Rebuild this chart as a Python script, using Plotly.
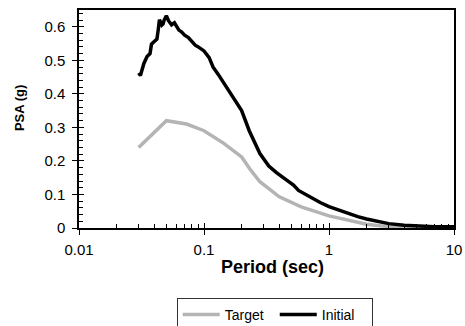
import plotly.graph_objects as go

# ---- data ----
target_period = [0.03, 0.05, 0.0726, 0.1, 0.143, 0.2, 0.233, 0.28, 0.4, 0.6, 1.0, 1.5, 2.0, 3.0, 4.0, 6.0, 10.0]
target_psa = [0.240, 0.320, 0.310, 0.290, 0.253, 0.212, 0.176, 0.138, 0.093, 0.063, 0.036, 0.020, 0.011, 0.004, 0.002, 0.001, 0.0005]

initial_period = [0.030, 0.031, 0.033, 0.035, 0.037, 0.038, 0.040, 0.042, 0.043, 0.044, 0.046, 0.047,
                  0.048, 0.050, 0.052, 0.055, 0.058, 0.060, 0.063, 0.066, 0.070, 0.075, 0.080, 0.085,
                  0.090, 0.100, 0.110, 0.118, 0.130, 0.152, 0.170, 0.200, 0.230, 0.260, 0.280, 0.330,
                  0.380, 0.450, 0.520, 0.570, 0.700, 0.850, 1.000, 1.200, 1.400, 1.700, 2.000, 2.500,
                  3.000, 4.000, 5.000, 7.000, 10.00]
initial_psa = [0.462, 0.455, 0.490, 0.511, 0.520, 0.548, 0.556, 0.563, 0.590, 0.621, 0.605, 0.608,
               0.620, 0.633, 0.618, 0.606, 0.612, 0.603, 0.590, 0.585, 0.575, 0.568, 0.556, 0.545,
               0.540, 0.528, 0.508, 0.480, 0.458, 0.417, 0.388, 0.350, 0.290, 0.245, 0.222, 0.185,
               0.165, 0.145, 0.128, 0.112, 0.093, 0.076, 0.064, 0.053, 0.044, 0.034, 0.027, 0.019,
               0.013, 0.008, 0.006, 0.004, 0.004]

x_tickvals = [0.01, 0.1, 1, 10]
x_ticktext = ["0.01", "0.1", "1", "10"]
y_tickvals = [0, 0.1, 0.2, 0.3, 0.4, 0.5, 0.6]
y_ticktext = ["0", "0.1", "0.2", "0.3", "0.4", "0.5", "0.6"]

x_minor = [m * 10 ** e for e in (-2, -1, 0) for m in range(2, 10)]
y_minor = [round(i * 0.02, 2) for i in range(0, 33)]

FONT = "Liberation Sans, Arial, sans-serif"

fig = go.Figure()
fig.add_trace(go.Scatter(x=target_period, y=target_psa, mode="lines", name="Target",
                         line=dict(color="#b4b4b4", width=3.5)))
fig.add_trace(go.Scatter(x=initial_period, y=initial_psa, mode="lines", name="Initial",
                         line=dict(color="#000000", width=3.5)))
# helper trace so the overlay axes (inside halves of crossing ticks) render
fig.add_trace(go.Scatter(x=[None], y=[None], xaxis="x2", yaxis="y2", showlegend=False,
                         hoverinfo="skip"))

axis_common = dict(showgrid=False, zeroline=False, linecolor="black", linewidth=1.5,
                   tickcolor="black", tickwidth=1.2, tickfont=dict(family=FONT, size=15, color="black"))

fig.update_layout(
    width=465, height=326,
    margin=dict(l=79, r=11, t=10, b=98, autoexpand=False),
    paper_bgcolor="white", plot_bgcolor="white",
    font=dict(family=FONT, color="black"),
    xaxis=dict(type="log", range=[-2, 1], tickmode="array", tickvals=x_tickvals, ticktext=x_ticktext,
               ticks="outside", ticklen=5, mirror=True, ticklabelstandoff=2,
               minor=dict(tickmode="array", tickvals=x_minor, ticks="inside", ticklen=4,
                          tickcolor="black", tickwidth=1),
               **axis_common),
    yaxis=dict(range=[0, 0.65], tickmode="array", tickvals=y_tickvals, ticktext=y_ticktext,
               ticks="outside", ticklen=5, mirror=True, ticklabelstandoff=4,
               minor=dict(tickmode="array", tickvals=y_minor, ticks="inside", ticklen=4,
                          tickcolor="black", tickwidth=1),
               **axis_common),
    xaxis2=dict(type="log", range=[-2, 1], overlaying="x", anchor="y2", side="bottom",
                tickmode="array", tickvals=x_tickvals, ticks="inside", ticklen=5,
                tickcolor="black", tickwidth=1.2, showticklabels=False, showline=False,
                showgrid=False, zeroline=False),
    yaxis2=dict(range=[0, 0.65], overlaying="y", anchor="x2", side="left",
                tickmode="array", tickvals=y_tickvals, ticks="inside", ticklen=5,
                tickcolor="black", tickwidth=1.2, showticklabels=False, showline=False,
                showgrid=False, zeroline=False),
    showlegend=True,
    legend=dict(orientation="h", x=0.522, xanchor="center", y=-0.321, yanchor="top",
                bordercolor="#333333", borderwidth=1, bgcolor="white",
                font=dict(family=FONT, size=14, color="black"), entrywidth=45,
                itemwidth=37),
    annotations=[
        dict(text="<b>Period (sec)</b>", xref="paper", yref="paper", x=0.516, y=-0.18,
             xanchor="center", yanchor="middle", showarrow=False,
             font=dict(family=FONT, size=18, color="black")),
        dict(text="<b>PSA (g)</b>", xref="paper", yref="paper", x=-0.16, y=0.55,
             xanchor="center", yanchor="middle", showarrow=False, textangle=-90,
             font=dict(family=FONT, size=13, color="black")),
    ],
)

fig.write_html("out.html")
